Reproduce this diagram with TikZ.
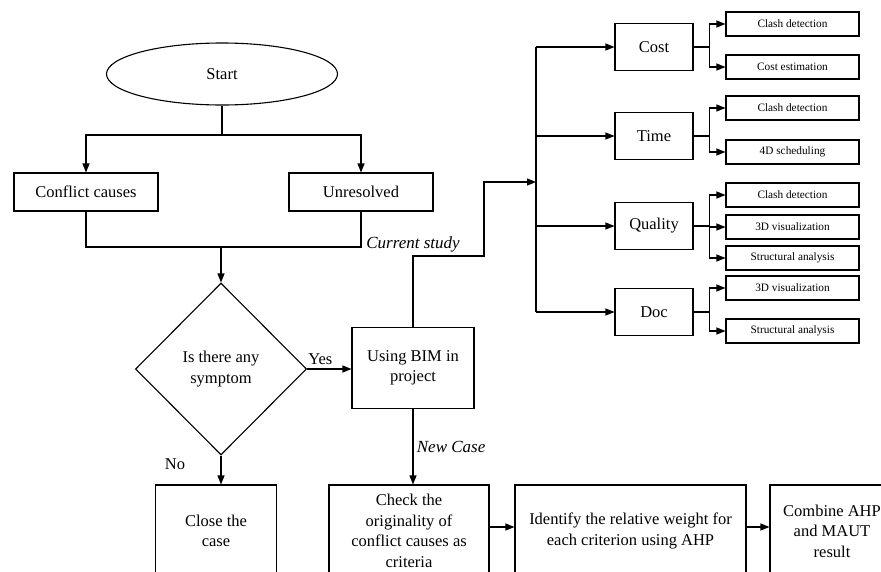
\documentclass[tikz,border=0pt]{standalone}
\usepackage{fontspec}
\setmainfont{Liberation Serif}
\usetikzlibrary{arrows.meta,positioning,shapes.geometric}

\begin{document}
\begin{tikzpicture}[x=1pt,y=-1pt,>={Triangle[length=9pt,width=7pt]},line width=1.1pt,
        font=\fontsize{16.5}{20.5}\selectfont,
        box/.style={draw,rectangle,inner sep=0pt,align=center},
        catbox/.style={box,minimum width=78pt,minimum height=47pt},
        subbox/.style={box,minimum width=133pt,minimum height=24pt,font=\fontsize{11.3}{13}\selectfont},
        lowbox/.style={box,minimum height=92pt},
        note/.style={font=\fontsize{17}{20}\selectfont\itshape}]
        \useasboundingbox (0,0) rectangle (881,571);
        \clip (0,0) rectangle (881,571);

        \node[draw,ellipse,inner sep=0pt,minimum width=231pt,minimum height=62pt] (start) at (222,74) {Start};
        \node[box,minimum width=144pt,minimum height=38pt] (conflict) at (86,192) {Conflict causes};
        \node[box,minimum width=144pt,minimum height=38pt] (unresolved) at (361,192) {Unresolved};
        \node[draw,diamond,inner sep=0pt,align=center,minimum width=171pt,minimum height=172pt] (symptom) at (221,369) {Is there any\\symptom};
        \node[box,minimum width=122pt,minimum height=81pt] (bim) at (413,368) {Using BIM in\\project};

        \node[lowbox,minimum width=121pt] (close) at (216,531) {Close the\\case};
        \node[lowbox,minimum width=160pt] (check) at (409,531) {Check the\\originality of\\conflict causes as\\criteria};
        \node[lowbox,minimum width=231pt] (identify) at (630.5,531) {Identify the relative weight for\\each criterion using AHP};
        \node[lowbox,minimum width=124pt] (combine) at (832,531) {Combine AHP\\and MAUT\\result};

        \node[catbox] (cost) at (654,47) {Cost};
        \node[catbox] (time) at (654,136) {Time};
        \node[catbox] (quality) at (654,226) {Quality};
        \node[catbox] (doc) at (654,312) {Doc};

        \foreach \name/\y/\txt in {c1/24/Clash detection, c2/67/Cost estimation,
                t1/108/Clash detection, t2/152/4D scheduling,
                q1/195/Clash detection, q2/227/3D visualization, q3/258/Structural analysis,
                d1/288/3D visualization, d2/331/Structural analysis}
            \node[subbox] (\name) at (792.5,\y) {\txt};

        \coordinate (split) at (222,135);
        \coordinate (merge) at (221,247);
        \coordinate (bend) at (484,256);
        \coordinate (hub) at (536,182);

        % left part
        \draw (start) -- (split);
        \draw[->] (split) -| (conflict);
        \draw[->] (split) -| (unresolved);
        \draw (conflict) |- (merge);
        \draw (unresolved) |- (merge);
        \draw[->] (merge) -- (symptom.north);
        \draw[->] (symptom.east) -- node[above,pos=0.3] {Yes} (symptom.east -| bim.west);
        \draw[->] (symptom.south) -- node[pos=0.3,left=32pt] {No} (symptom.south |- close.north);
        \draw[->] (bim.south) -- node[right,note] {New Case} (bim.south |- check.north);
        \draw[->] ([yshift=4pt]check.east) -- ([yshift=4pt]check.east -| identify.west);
        \draw[->] ([yshift=4pt]identify.east) -- ([yshift=4pt]identify.east -| combine.west);

        % BIM criteria tree
        \draw[->] (bim.north) |- node[above,note] {Current study} (bend) |- (hub);
        \draw (cost.west -| hub) -- (doc.west -| hub);
        \foreach \cat in {cost,time,quality,doc}
            \draw[->] (\cat.west -| hub) -- (\cat.west);
        \foreach \cat/\subs in {cost/{c1,c2},time/{t1,t2},quality/{q1,q2,q3},doc/{d1,d2}} {
            \draw (\cat.east) -- ++(16,0) coordinate (\cat-j);
            \foreach \s in \subs
                \draw[->] (\cat-j) |- (\s.west);
        }
    \end{tikzpicture}
\end{document}
